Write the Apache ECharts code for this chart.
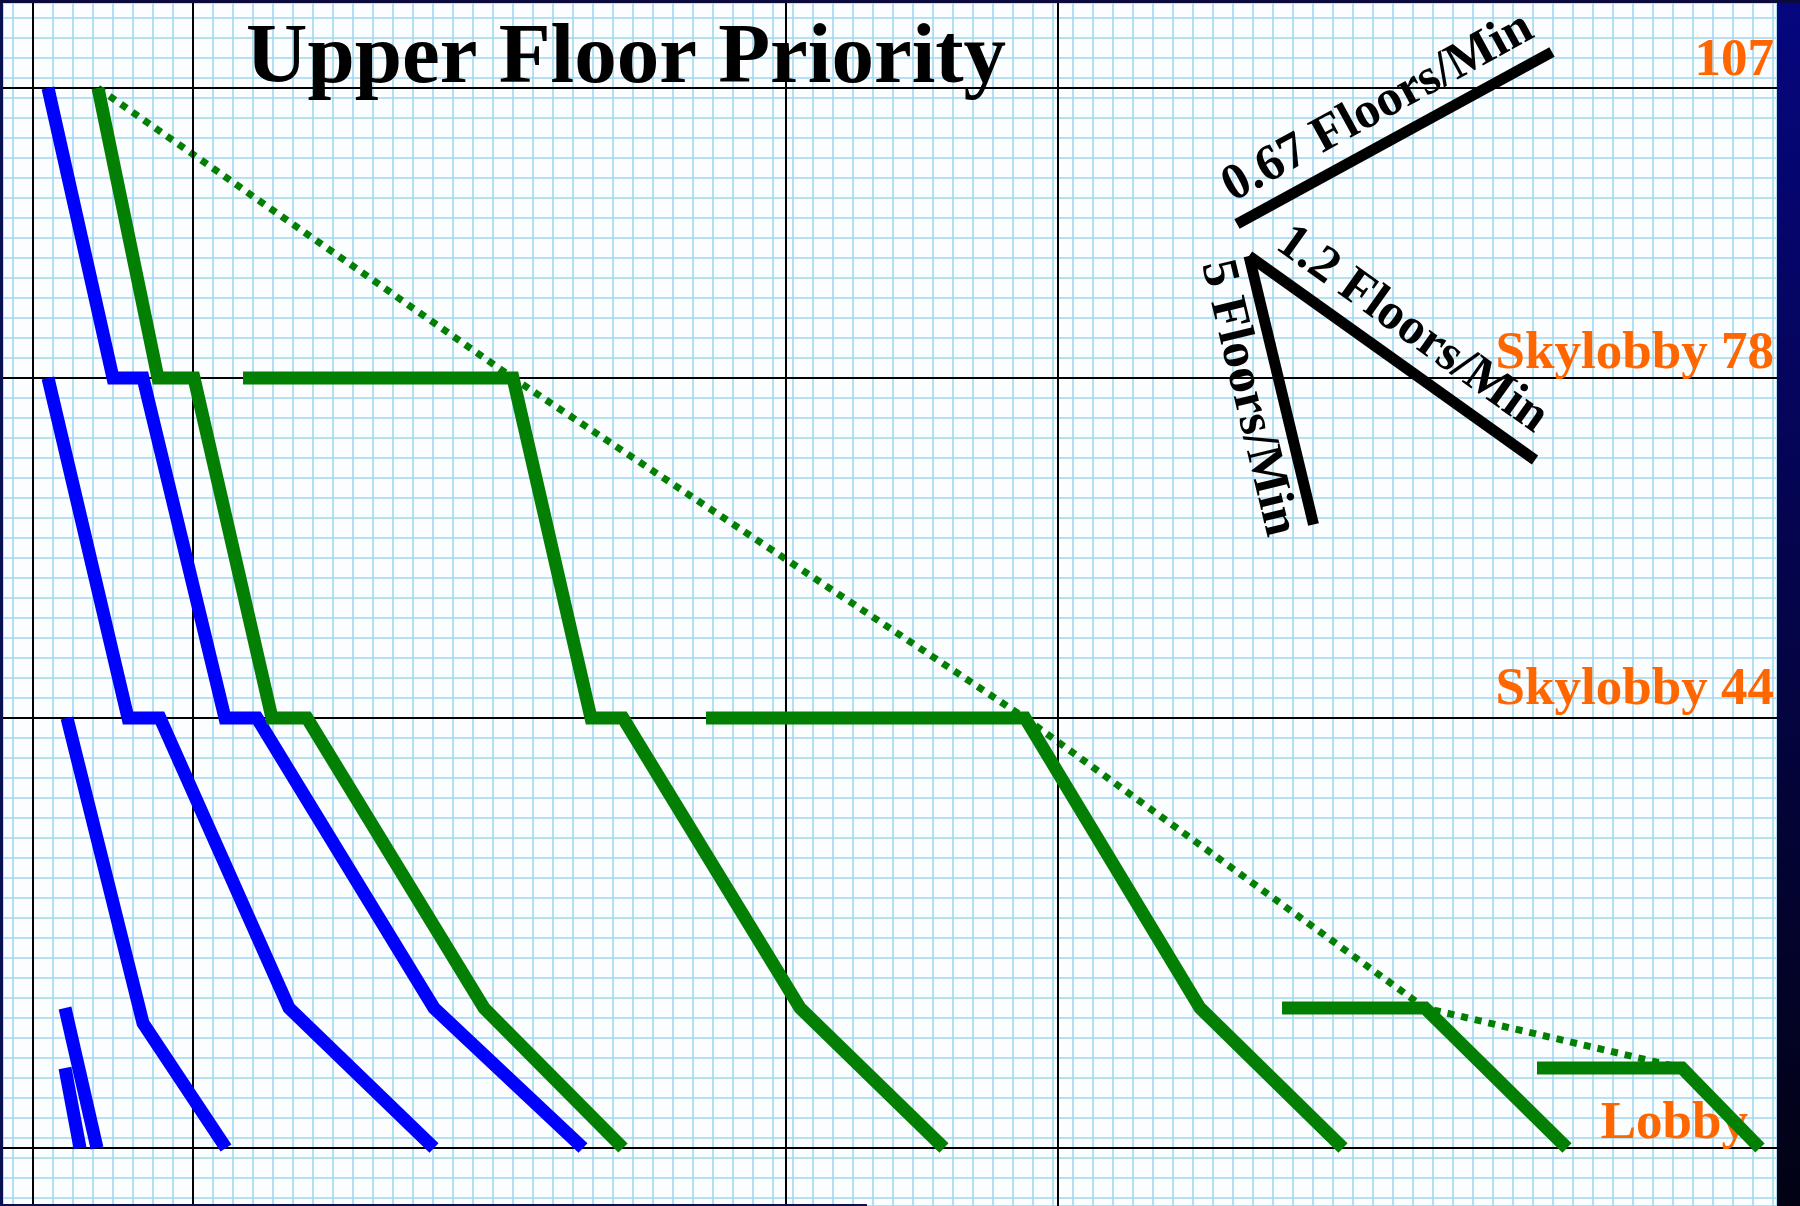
<!DOCTYPE html>
<html><head><meta charset="utf-8">
<script src="https://cdn.jsdelivr.net/npm/echarts@6/dist/echarts.min.js"></script>
<style>html,body{margin:0;padding:0;background:#05054a;}#chart{width:1800px;height:1206px;}</style>
</head><body><div id="chart"></div>
<script>
// ---- data (x: minutes, y: floor) ----
const titleText = 'Upper Floor Priority';
const floorLevels = [107, 78, 44, 1];
const floorLabels = ['107', 'Skylobby 78', 'Skylobby 44', 'Lobby'];
const timeMarks = [0, 16, 75.3, 102.5];

const blue1 = [[1.5,107],[8.0,78],[11.0,78],[19.2,44],[22.4,44],[40.1,15],[55.0,1]];
const blue2 = [[1.5,78],[9.5,44],[12.7,44],[25.6,15],[40.1,1]];
const blue3 = [[3.4,44],[11.0,13.5],[19.3,1]];
const blue4 = [[3.2,15],[6.4,1]];
const blue5 = [[3.2,9],[4.7,1]];
const green1 = [[6.5,107],[12.5,78],[16.1,78],[23.9,44],[27.4,44],[45.1,15],[59.0,1]];
const green2 = [[21.0,78],[48.0,78],[55.8,44],[59.0,44],[76.7,15],[91.1,1]];
const green3 = [[67.3,44],[99.2,44],[116.7,15],[131.0,1]];
const green4 = [[124.9,15],[139.2,15],[153.4,1]];
const green5 = [[150.4,9],[164.9,9],[172.7,1]];
const frontier = [[6.5,107],[48.0,78],[99.2,44],[139.2,15],[164.9,9]];

const rateNames = ['0.67 Floors/Min', '1.2 Floors/Min', '5 Floors/Min'];
const rateStart = [[120.4,93.4],[121.6,90.2],[121.6,90.2]];
const rateEnd   = [[151.9,110.6],[150.2,69.8],[128.05,63.35]];

// ---- styling ----
const SERIF = '"Liberation Serif","Times New Roman",serif';
const BLUE = '#0000ff', GREEN = '#038003', ORANGE = '#ff6600';
const labelDist = [[3, 0], [3, -3], [3, 1], [29, -3]];
const ratePos = ['insideMiddleTop', 'insideMiddleTop', 'insideMiddleBottom'];
const PAPER_LINE = { show: true, lineStyle: { color: '#a0d7ee', width: 1.6 } };

function runSeries(name, data, color) {
  return {
    name, type: 'line', data, symbol: 'none', silent: true, z: 5,
    lineStyle: { color, width: 13, cap: 'butt', join: 'miter' }
  };
}

const chart = echarts.init(document.getElementById('chart'), null, { renderer: 'canvas' });
const option = {
  animation: false,
  backgroundColor: '#07074e',
  title: {
    text: titleText, left: 246, top: 18, padding: 0,
    textStyle: { fontFamily: SERIF, fontWeight: 'bold', fontSize: 85, lineHeight: 85, color: '#000' }
  },
  grid: {
    left: 3, right: 23, top: 3, bottom: 0,
    show: true, backgroundColor: '#fbfdfe', borderWidth: 0
  },
  xAxis: {
    type: 'value', min: -3, max: 174.4, splitNumber: 89, minInterval: 2, maxInterval: 2,
    axisLine: { show: false }, axisTick: { show: false }, axisLabel: { show: false },
    splitLine: PAPER_LINE
  },
  yAxis: {
    type: 'value', min: -4.8, max: 115.5, splitNumber: 60, minInterval: 2, maxInterval: 2,
    axisLine: { show: false }, axisTick: { show: false }, axisLabel: { show: false },
    splitLine: PAPER_LINE
  },
  series: [
    {
      name: 'levels', type: 'line', data: [], z: 2,
      markLine: {
        silent: true, symbol: ['none', 'none'], animation: false,
        lineStyle: { color: '#000', width: 2, type: 'solid' },
        label: { show: false },
        emphasis: { disabled: true },
        data: [
          ...floorLevels.map((f, i) => ({
            yAxis: f,
            label: {
              show: true, position: 'insideEndTop', formatter: floorLabels[i],
              distance: labelDist[i], color: ORANGE, fontFamily: SERIF,
              fontWeight: 'bold', fontSize: 53, lineHeight: 53
            }
          })),
          ...timeMarks.map(t => ({ xAxis: t }))
        ]
      }
    },
    runSeries('blue1', blue1, BLUE),
    runSeries('blue2', blue2, BLUE),
    runSeries('blue3', blue3, BLUE),
    runSeries('blue4', blue4, BLUE),
    runSeries('blue5', blue5, BLUE),
    runSeries('green1', green1, GREEN),
    runSeries('green2', green2, GREEN),
    runSeries('green3', green3, GREEN),
    runSeries('green4', green4, GREEN),
    runSeries('green5', green5, GREEN),
    {
      name: 'frontier', type: 'line', data: frontier, symbol: 'none', silent: true, z: 4,
      lineStyle: { color: GREEN, width: 7, type: [7, 7], cap: 'butt' }
    },
    {
      name: 'rates', type: 'line', data: [], z: 6,
      markLine: {
        silent: true, symbol: ['none', 'none'], animation: false,
        emphasis: { disabled: true },
        lineStyle: { color: '#000', width: 11, type: 'solid', cap: 'butt' },
        data: rateNames.map((n, i) => {
          const lab = {
            show: true, position: ratePos[i], formatter: n, distance: 9,
            color: '#000', fontFamily: SERIF, fontWeight: 'bold', fontSize: 51
          };
          return [{ coord: rateStart[i], label: lab }, { coord: rateEnd[i], label: lab }];
        })
      }
    }
  ],
  graphic: [
    { type: 'rect', z: 100, shape: { x: 1777, y: 0, width: 23, height: 1206 },
      style: { fill: { type: 'linear', x: 0, y: 0, x2: 0, y2: 1,
        colorStops: [{ offset: 0, color: '#06067f' }, { offset: 1, color: '#020214' }] } } },
    { type: 'rect', z: 100, shape: { x: 0, y: 0, width: 3, height: 1206 }, style: { fill: '#0b1150' } },
    { type: 'rect', z: 100, shape: { x: 0, y: 0, width: 1800, height: 3 }, style: { fill: '#0a0a3c' } },
    { type: 'rect', z: 100, shape: { x: 0, y: 1204, width: 867, height: 2 }, style: { fill: '#0b1150' } }
  ]
};
chart.setOption(option);
</script>
</body></html>
